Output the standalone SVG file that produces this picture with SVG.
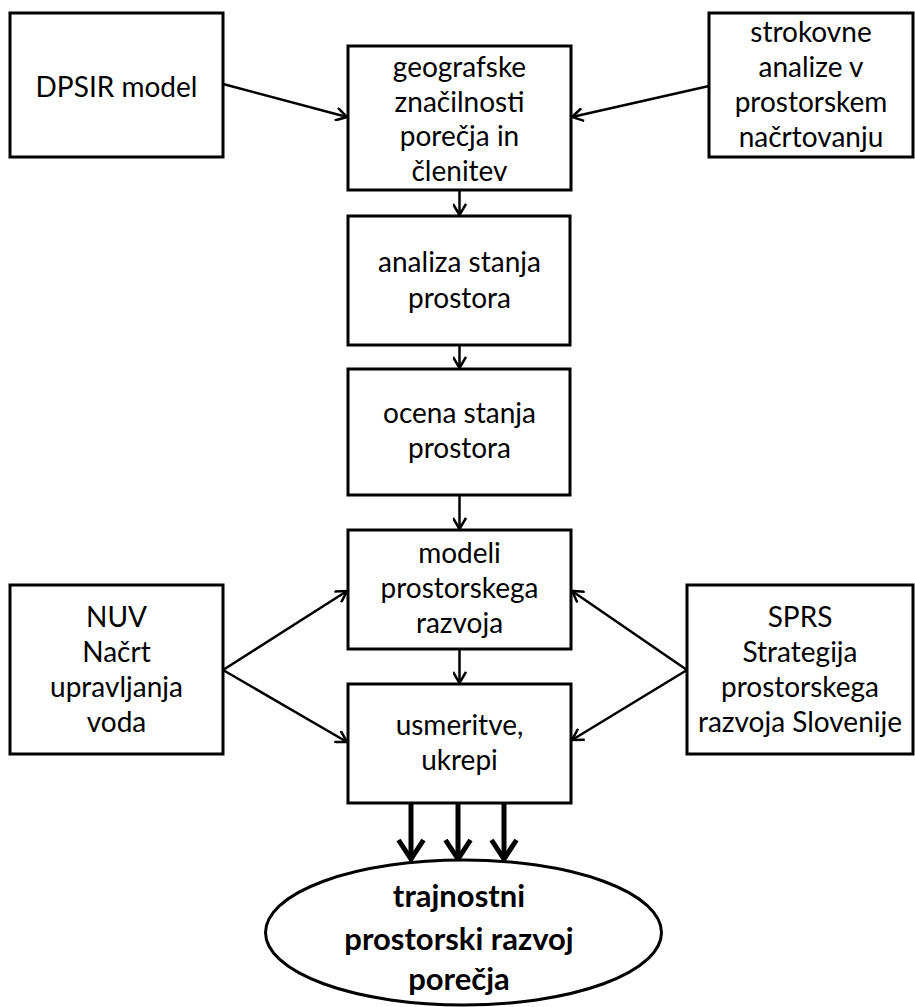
<svg xmlns="http://www.w3.org/2000/svg" width="915" height="1007" viewBox="0 0 915 1007">
<defs>
<style>
.box{fill:#fff;stroke:#000;stroke-width:3}
.t{font-family:Lato,"Open Sans","Liberation Sans",sans-serif;font-size:28px;fill:#000;text-anchor:middle}
.tb{font-family:Lato,"Open Sans","Liberation Sans",sans-serif;font-size:31px;font-weight:bold;fill:#000;text-anchor:middle}
.c{fill:none;stroke:#000;stroke-width:2.5}
.ct{fill:none;stroke:#000;stroke-width:5}
</style>
<marker id="ah" viewBox="0 0 14 14" refX="12.5" refY="7" markerWidth="14" markerHeight="14" markerUnits="userSpaceOnUse" orient="auto">
<path d="M1.5,0.5 L12.5,7 L1.5,13.5" fill="none" stroke="#000" stroke-width="2.5"/>
</marker>
<marker id="aht" viewBox="0 0 24 30" refX="21" refY="15" markerWidth="24" markerHeight="30" markerUnits="userSpaceOnUse" orient="auto">
<path d="M2,2.5 L21,15 L2,27.5" fill="none" stroke="#000" stroke-width="5"/>
</marker>
</defs>
<rect width="915" height="1007" fill="#fff"/>
<g id="connectors">
<line class="c" x1="223" y1="84" x2="347" y2="117" marker-end="url(#ah)"/>
<line class="c" x1="709" y1="86" x2="572" y2="117" marker-end="url(#ah)"/>
<line class="c" x1="459.5" y1="190" x2="459.5" y2="215" marker-end="url(#ah)"/>
<line class="c" x1="459.5" y1="345" x2="459.5" y2="368" marker-end="url(#ah)"/>
<line class="c" x1="459.5" y1="495" x2="459.5" y2="529" marker-end="url(#ah)"/>
<line class="c" x1="459.5" y1="649" x2="459.5" y2="683" marker-end="url(#ah)"/>
<line class="c" x1="223" y1="670" x2="347" y2="591" marker-end="url(#ah)"/>
<line class="c" x1="223" y1="670" x2="347" y2="742" marker-end="url(#ah)"/>
<line class="c" x1="687" y1="670" x2="572" y2="591" marker-end="url(#ah)"/>
<line class="c" x1="687" y1="670" x2="572" y2="740" marker-end="url(#ah)"/>
<line class="ct" x1="411" y1="803" x2="411" y2="859" marker-end="url(#aht)"/>
<line class="ct" x1="458" y1="803" x2="458" y2="859" marker-end="url(#aht)"/>
<line class="ct" x1="504" y1="803" x2="504" y2="859" marker-end="url(#aht)"/>
</g>
<g id="dpsir">
<rect class="box" x="10" y="13" width="213" height="144"/>
<text class="t" x="116.5" y="97">DPSIR model</text>
</g>
<g id="geografske">
<rect class="box" x="348" y="46" width="223" height="144"/>
<text class="t" x="459.5" y="77">geografske</text>
<text class="t" x="459.5" y="112">značilnosti</text>
<text class="t" x="459.5" y="146">porečja in</text>
<text class="t" x="459.5" y="181">členitev</text>
</g>
<g id="strokovne">
<rect class="box" x="709" y="13" width="204" height="144"/>
<text class="t" x="811" y="42">strokovne</text>
<text class="t" x="811" y="77">analize v</text>
<text class="t" x="811" y="112">prostorskem</text>
<text class="t" x="811" y="147">načrtovanju</text>
</g>
<g id="analiza">
<rect class="box" x="348" y="216" width="222" height="129"/>
<text class="t" x="459.5" y="272">analiza stanja</text>
<text class="t" x="459.5" y="308">prostora</text>
</g>
<g id="ocena">
<rect class="box" x="348" y="369" width="222" height="126"/>
<text class="t" x="459.5" y="423">ocena stanja</text>
<text class="t" x="459.5" y="458">prostora</text>
</g>
<g id="modeli">
<rect class="box" x="348" y="530" width="223" height="119"/>
<text class="t" x="459.5" y="563">modeli</text>
<text class="t" x="459.5" y="598">prostorskega</text>
<text class="t" x="459.5" y="633">razvoja</text>
</g>
<g id="usmeritve">
<rect class="box" x="348" y="684" width="223" height="119"/>
<text class="t" x="459.5" y="735">usmeritve,</text>
<text class="t" x="459.5" y="770">ukrepi</text>
</g>
<g id="nuv">
<rect class="box" x="10" y="585" width="213" height="169"/>
<text class="t" x="116.5" y="627">NUV</text>
<text class="t" x="116.5" y="662">Načrt</text>
<text class="t" x="116.5" y="697">upravljanja</text>
<text class="t" x="116.5" y="732">voda</text>
</g>
<g id="sprs">
<rect class="box" x="687" y="585" width="226" height="169"/>
<text class="t" x="800" y="627">SPRS</text>
<text class="t" x="800" y="662">Strategija</text>
<text class="t" x="800" y="697">prostorskega</text>
<text class="t" x="800" y="732">razvoja Slovenije</text>
</g>
<g id="trajnostni">
<ellipse class="box" cx="463.5" cy="932.5" rx="198" ry="72.5"/>
<text class="tb" x="459" y="907">trajnostni</text>
<text class="tb" x="459" y="950">prostorski razvoj</text>
<text class="tb" x="459" y="990">porečja</text>
</g>
</svg>
